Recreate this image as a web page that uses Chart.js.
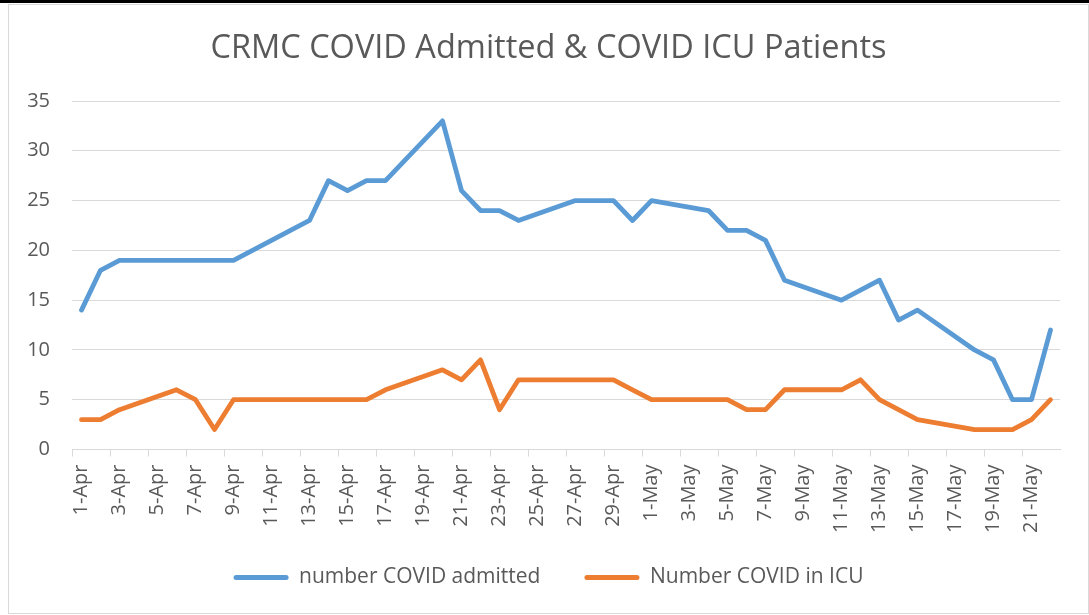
<!DOCTYPE html>
<html>
<head>
<meta charset="utf-8">
<script src="https://cdn.jsdelivr.net/npm/chart.js@4.4.0/dist/chart.umd.min.js"></script>
<style>
  html, body { margin: 0; padding: 0; background: #ffffff; }
  #topbar { position: absolute; left: 0; top: 0; width: 1089px; height: 3px; background: #000; }
  #frame { position: absolute; left: 8px; top: 4px; width: 1079px; height: 608px; border: 1px solid #d9d9d9; background: #fff; }
  canvas { display: block; }
</style>
</head>
<body>
<div id="topbar"></div>
<div id="frame"><canvas id="c" width="1079" height="608"></canvas></div>
<script>
// Dates 1-Apr .. 22-May (null = no data reported that day)
const categories = [
  "1-Apr","2-Apr","3-Apr","4-Apr","5-Apr","6-Apr","7-Apr","8-Apr","9-Apr","10-Apr",
  "11-Apr","12-Apr","13-Apr","14-Apr","15-Apr","16-Apr","17-Apr","18-Apr","19-Apr","20-Apr",
  "21-Apr","22-Apr","23-Apr","24-Apr","25-Apr","26-Apr","27-Apr","28-Apr","29-Apr","30-Apr",
  "1-May","2-May","3-May","4-May","5-May","6-May","7-May","8-May","9-May","10-May",
  "11-May","12-May","13-May","14-May","15-May","16-May","17-May","18-May","19-May","20-May",
  "21-May","22-May"
];
const admitted = [
  14, 18, 19, null, null, 19, 19, 19, 19, null,
  null, null, 23, 27, 26, 27, 27, null, null, 33,
  26, 24, 24, 23, null, null, 25, 25, 25, 23,
  25, null, null, 24, 22, 22, 21, 17, null, null,
  15, 16, 17, 13, 14, null, null, 10, 9, 5,
  5, 12
];
const icu = [
  3, 3, 4, null, null, 6, 5, 2, 5, null,
  null, null, 5, 5, 5, 5, 6, null, null, 8,
  7, 9, 4, 7, null, null, 7, 7, 7, 6,
  5, null, null, 5, 5, 4, 4, 6, null, null,
  6, 7, 5, 4, 3, null, null, 2, 2, 2,
  3, 5
];
const seriesNames = ["number COVID admitted", "Number COVID in ICU"];
const seriesColors = ["#5B9BD5", "#ED7D31"];
const yTicks = [0, 5, 10, 15, 20, 25, 30, 35];
const titleText = "CRMC COVID Admitted & COVID ICU Patients";

const FONT = "'Open Sans', 'Noto Sans', sans-serif";
const TXT = "#595959";
const GRID = "#d9d9d9";

new Chart(document.getElementById('c'), {
  type: 'line',
  data: {
    labels: categories,
    datasets: [
      { label: seriesNames[0], data: admitted, borderColor: seriesColors[0], backgroundColor: seriesColors[0],
        borderWidth: 4.8, pointRadius: 0, pointHoverRadius: 0, tension: 0, spanGaps: true,
        borderJoinStyle: 'round', borderCapStyle: 'round' },
      { label: seriesNames[1], data: icu, borderColor: seriesColors[1], backgroundColor: seriesColors[1],
        borderWidth: 4.8, pointRadius: 0, pointHoverRadius: 0, tension: 0, spanGaps: true,
        borderJoinStyle: 'round', borderCapStyle: 'round' }
    ]
  },
  options: {
    responsive: false,
    animation: false,
    layout: { padding: { left: 0, right: 0, top: 0, bottom: 15 } },
    plugins: {
      title: {
        display: true, text: titleText, color: TXT,
        font: { family: FONT, size: 32.5, weight: 'normal' },
        padding: { top: 24, bottom: 33 }
      },
      legend: {
        position: 'bottom',
        labels: {
          color: TXT, font: { family: FONT, size: 21 },
          boxWidth: 55, boxHeight: 5, padding: 44,
          useBorderRadius: true, borderRadius: 2.5,
          generateLabels(chart) {
            return chart.data.datasets.map((ds, i) => ({
              text: ds.label, fillStyle: ds.borderColor, strokeStyle: ds.borderColor,
              lineWidth: 0, hidden: false, datasetIndex: i, fontColor: TXT, borderRadius: 2.5
            }));
          }
        }
      },
      tooltip: { enabled: false }
    },
    scales: {
      x: {
        type: 'category',
        offset: true,
        grid: {
          offset: true, drawOnChartArea: false, drawTicks: true, tickLength: 7,
          color: (ctx) => (ctx.index % 2 === 0 ? GRID : 'rgba(0,0,0,0)'), lineWidth: 1
        },
        border: { display: true, color: GRID, width: 1 },
        ticks: {
          autoSkip: false, maxRotation: 90, minRotation: 90, padding: 8,
          color: TXT, font: { family: FONT, size: 20 },
          callback: function(v, i) { return i % 2 === 0 ? categories[i] : ''; }
        },
        afterFit(scale) {
          scale.height = 73.5;
          scale._computeLabelArea = function() { return undefined; };
        }
      },
      y: {
        min: 0, max: 35,
        afterBuildTicks(scale) { scale.ticks = yTicks.map(v => ({ value: v })); },
        grid: { color: GRID, lineWidth: 1, drawTicks: false },
        border: { display: false },
        ticks: { color: TXT, font: { family: FONT, size: 20 }, padding: 22 },
        afterFit(scale) { scale.width = 63; }
      },
      yRight: {
        position: 'right', min: 0, max: 35,
        grid: { display: false, drawTicks: false },
        border: { display: false },
        ticks: { display: false },
        afterFit(scale) { scale.width = 28; }
      }
    }
  }
});
</script>
</body>
</html>
